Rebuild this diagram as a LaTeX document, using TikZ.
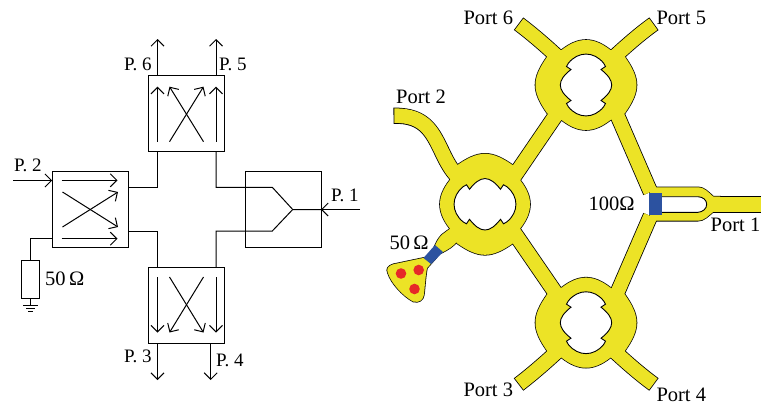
\documentclass[tikz,border=0pt]{standalone}
\usepackage{fontspec}
\setmainfont{Liberation Serif}
\usetikzlibrary{arrows.meta}
\definecolor{ylw}{RGB}{236,227,38}
\definecolor{blu}{RGB}{44,82,160}
\definecolor{rd}{RGB}{230,40,40}
\tikzset{
 wire/.style={line width=1pt},
 arr/.style={wire,-{Straight Barb[length=6.5pt,width=13pt,line width=1pt]}},
 box/.style={draw,line width=1pt,fill=none,inner sep=0,outer sep=0,minimum width=76pt,minimum height=76pt},
 lab/.style={font=\fontsize{20.5}{20.5}\selectfont,inner sep=0,anchor=base west},
 labp/.style={font=\fontsize{19}{19}\selectfont,inner sep=0,anchor=base west},
}
\newcommand{\holepath}{
 (-17.7,-21.7) .. controls (-8,-34) and (8,-34) .. (17.7,-21.7) -- (19.5,-18.5) -- (15,-15.5)
 .. controls (22,-10) and (25.7,-5) .. (25.7,0) .. controls (25.7,5) and (22,10) .. (15,15.5)
 -- (19.5,18.5) -- (17.7,21.7) .. controls (8,34) and (-8,34) .. (-17.7,21.7) -- (-19.5,18.5) -- (-15,15.5)
 .. controls (-22,10) and (-25.7,5) .. (-25.7,0) .. controls (-25.7,-5) and (-22,-10) .. (-15,-15.5)
 -- (-19.5,-18.5) -- cycle}
\newcommand{\ringpath}{
 (-24.3,-35) .. controls (-16,-41.5) and (-8,-45) .. (0,-45) .. controls (8,-45) and (16,-41.5) .. (24.3,-35)
 -- (38.7,-28.3) .. controls (46,-18) and (50.5,-9) .. (50.5,0) .. controls (50.5,9) and (46,18) .. (38.7,28.3)
 -- (24.3,35) .. controls (16,41.5) and (8,45) .. (0,45) .. controls (-8,45) and (-16,41.5) .. (-24.3,35)
 -- (-38.7,28.3) .. controls (-46,18) and (-50.5,9) .. (-50.5,0) .. controls (-50.5,-9) and (-46,-18) .. (-38.7,-28.3) -- cycle}
\newcommand{\metal}[2]{%
 \begin{scope}[color=#1,fill=#1]
 \draw[line width=14pt+#2,shorten <=-#2/2] (519.2,24.2) .. controls (531,33) and (545,45) .. (560,59);
 \draw[line width=14pt+#2,shorten <=-#2/2] (653.3,24.2) .. controls (641,33) and (627,45) .. (612,59);
 \draw[line width=14pt+#2,shorten <=-#2/2] (519.2,384) .. controls (531,375) and (545,363) .. (560,349);
 \draw[line width=14pt+#2,shorten <=-#2/2] (653.3,384) .. controls (641,375) and (627,363) .. (612,349);
 \draw[line width=14.5pt+#2,shorten <=-#2/2] (394.3,115.7) .. controls (426,115) and (433,133) .. (444,156) .. controls (449,166) and (453,172) .. (459,178);
 \draw[line width=14.4pt+#2] (513,178) -- (558,112);
 \draw[line width=14.4pt+#2] (513,231) -- (558,296.5);
 \draw[line width=14pt+#2] (615,110) -- (650.5,192);
 \draw[line width=14pt+#2] (615,298) -- (650.5,216);
 \draw[line width=15pt+#2] (705,204.2) -- (770,204.2);
 \filldraw[line width=#2,shift={(586,85)}] \ringpath;
 \filldraw[line width=#2,shift={(586,322.7)}] \ringpath;
 \filldraw[line width=#2,shift={(485,204.3)},rotate=90] \ringpath;
 \filldraw[line width=#2] (650,187.3) -- (698,187.3) .. controls (704,187.3) and (708,192) .. (713.3,196.7) -- (720,196.7) -- (720,211.7) -- (713.3,211.7)
   .. controls (708,216) and (704,220.7) .. (698,220.7) -- (650,220.7) -- cycle;
 \filldraw[line width=#2] (433,250) .. controls (436,244) and (437,240) .. (441.7,235) -- (450.7,228.3) -- (462,225) -- (458,240) .. controls (454,246) and (449,249) .. (441,253) -- cycle;
 \filldraw[line width=#2] (428,257) -- (393.3,264.3) .. controls (388,266) and (386,269) .. (388,273) .. controls (391,283) and (403,296) .. (413.3,301.5) .. controls (419,303) and (423,300) .. (423.8,295) .. controls (425,285) and (425.5,275) .. (427,268) -- (436,258) -- cycle;
 \end{scope}}
\begin{document}
\begin{tikzpicture}[x=1pt,y=-1pt]
\useasboundingbox (0,0) rectangle (761,407);
% --- left schematic ---
\node[box] (top) at (186.5,113) {};
\node[box] (lft) at (90.2,209.5) {};
\node[box] (rgt) at (283,209.5) {};
\node[box] (bot) at (186.5,305.7) {};
\draw[arr] (157.5,141.7) -- (157.5,86.7);
\draw[arr] (216,141.7) -- (216,86.7);
\draw[arr] (203.5,141.7) -- (169.5,86.7);
\draw[arr] (169.5,141.7) -- (203.5,86.7);
\draw[arr] (157.5,277) -- (157.5,332.5);
\draw[arr] (216,277) -- (216,332.5);
\draw[arr] (203.5,277) -- (169.5,332.5);
\draw[arr] (169.5,277) -- (203.5,332.5);
\draw[arr] (61.5,180.3) -- (117.5,180.3);
\draw[arr] (61.5,238.7) -- (117.5,238.7);
\draw[arr] (62.5,227) -- (118,192);
\draw[arr] (62.5,192) -- (118,227);
\draw[arr] (157.5,75) -- (157.5,39);
\draw[arr] (216,75) -- (216,39);
\draw[arr] (157.5,343.7) -- (157.5,380);
\draw[arr] (210.7,343.7) -- (210.7,380);
\coordinate (p2s) at (13,180.5);
\draw[arr] (p2s) -- (lft.west |- p2s);
\coordinate (p1s) at (360,209.5);
\draw[arr] (p1s) -- (rgt.east);
\draw[wire,line join=miter] (rgt.east) -- (292.7,209.5) -- (272.3,187.3) -- (216,187.3) -- (216,151);
\draw[wire] (292.7,209.5) -- (272.3,231) -- (216,231) -- (216,267.7);
\draw[wire] (128.3,187.3) -- (157.5,187.3) -- (157.5,151);
\draw[wire] (128.3,231) -- (157.5,231) -- (157.5,267.7);
\node[draw,line width=1pt,minimum width=17.6pt,minimum height=38.3pt,inner sep=0] (res) at (30.5,279.2) {};
\draw[wire] (lft.west |- 0,238.3) -- (30.5,238.3) -- (res.north);
\coordinate (g0) at (30.5,305);
\draw[wire] (res.south) -- (g0);
\draw[wire] (23.3,305) -- (37.7,305) (26,308.4) -- (35,308.4) (28.3,311.8) -- (32.7,311.8);
\node[labp] (l6) at (124,70) {P. 6};
\node[labp] (l5) at (219,70) {P. 5};
\node[labp] (l2) at (14,171.7) {P. 2};
\node[labp] (l1) at (331,201.7) {P. 1};
\node[labp] (l3) at (124,362.7) {P. 3};
\node[labp] (l4) at (216,366) {P. 4};
\node[lab] (l50) at (45,285) {50\,Ω};
% --- right layout ---
\metal{black}{1.6pt}
\metal{ylw}{0.01pt}
\draw[line width=0.9pt,fill=white,shift={(586,85)}] \holepath;
\draw[line width=0.9pt,fill=white,shift={(586,322.7)}] \holepath;
\draw[line width=0.9pt,fill=white,shift={(485,204.3)},rotate=90] \holepath;
\draw[line width=0.9pt,fill=white] (655,196.7) -- (698,196.7) .. controls (703,197) and (706.7,200) .. (706.7,204.3) .. controls (706.7,208.5) and (703,212) .. (698,212.3) -- (655,212.3) -- cycle;
\fill[blu] (649.3,193) rectangle (661.7,215);
\fill[blu] (423.5,258) -- (435,245) -- (443,252) -- (431,264) -- cycle;
\foreach \p in {(401,273.5),(418.7,270),(414.5,289)} \fill[rd] \p circle (5.3);
\node[lab] (a6) at (463.3,24) {Port 6};
\node[lab] (a5) at (656.3,24) {Port 5};
\node[lab] (a2) at (396,103) {Port 2};
\node[lab] (a1) at (710.5,231.7) {Port 1};
\node[lab] (a3) at (463.3,396.7) {Port 3};
\node[lab] (a4) at (656.3,401.7) {Port 4};
\node[lab] (o100) at (588.3,210) {100Ω};
\node[lab] (o50) at (389.3,249.3) {50\,Ω};
\end{tikzpicture}
\end{document}
